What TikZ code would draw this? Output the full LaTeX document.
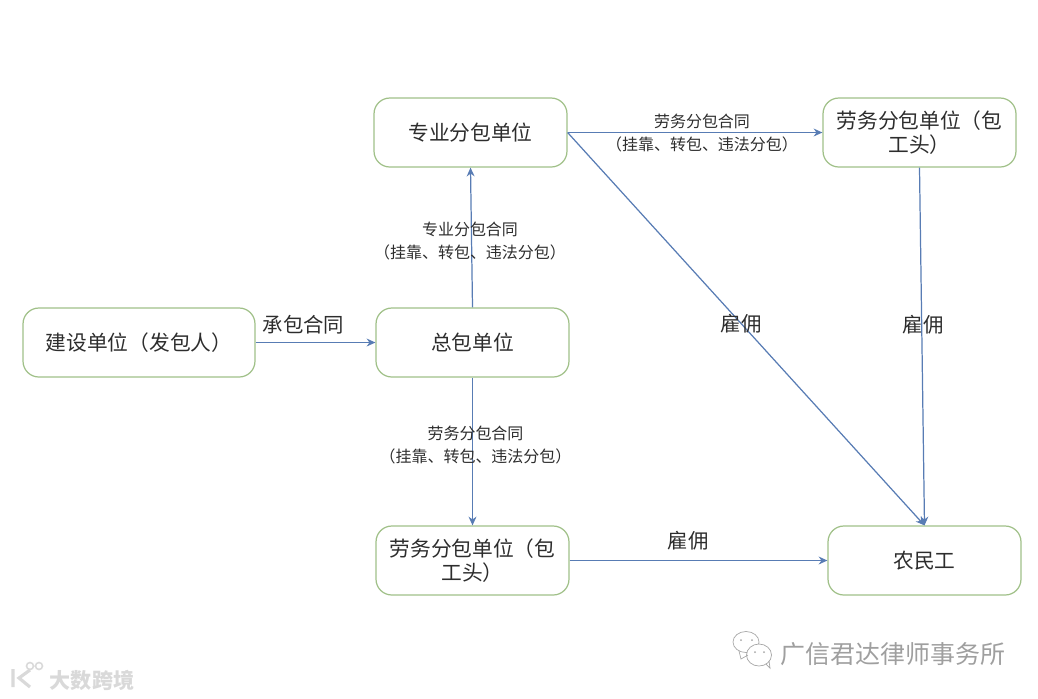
\documentclass[tikz,border=0pt]{standalone}
\usepackage{fontspec}
\setmainfont{Noto Sans CJK SC}
\usetikzlibrary{arrows.meta,positioning}
\definecolor{boxgreen}{RGB}{160,192,136}
\definecolor{linkblue}{RGB}{88,124,180}
\definecolor{darktext}{RGB}{45,45,45}
\tikzset{
  unitbox/.style={draw=boxgreen,line width=0.7pt,rounded corners=9pt,minimum height=1.38cm,
    minimum width=3.86cm,align=center,text=darktext,font=\fontsize{11.8}{14}\selectfont,inner sep=2pt},
  link/.style={-{Stealth[length=5pt,width=4.5pt]},color=linkblue,line width=0.7pt},
  smalllabel/.style={font=\fontsize{9.1}{12.8}\selectfont,color=darktext,align=center,inner sep=0pt},
  biglabel/.style={font=\fontsize{11.6}{14}\selectfont,color=darktext,inner sep=0pt},
  markgray/.style={color=gray!70,line width=0.4pt},
}
\begin{document}
\begin{tikzpicture}[x=0.02cm,y=-0.02cm]
\useasboundingbox (0,0) rectangle (1038,698);
% units
\node[unitbox,minimum width=4.64cm] (owner) at (139,342.5) {建设单位（发包人）};
\node[unitbox] (general) at (472.5,342.5) {总包单位};
\node[unitbox] (special) at (470.5,132.5) {专业分包单位};
\node[unitbox] (labourtop) at (919.5,132.5) {劳务分包单位（包\\工头）};
\node[unitbox] (labourlow) at (472.5,560.5) {劳务分包单位（包\\工头）};
\node[unitbox] (workers) at (924.5,560.5) {农民工};
% contracts
\foreach \a/\b in {owner.east/general.west,general.north/special.south,
  general.south/labourlow.north,special.east/labourtop.west,special.east/workers.north,
  labourtop.south/workers.north,labourlow.east/workers.west}{
  \draw[link] (\a) -- (\b);}
% labels
\node[biglabel] (main) at (303.5,325) {承包合同};
\node[smalllabel] (up) at (470,241) {专业分包合同\\（挂靠、转包、违法分包）};
\node[smalllabel] (down) at (475.5,445) {劳务分包合同\\（挂靠、转包、违法分包）};
\node[smalllabel] (right) at (702,133) {劳务分包合同\\（挂靠、转包、违法分包）};
\node[biglabel] (hirea) at (741,324) {雇佣};
\node[biglabel] (hireb) at (923,325) {雇佣};
\node[biglabel] (hirec) at (688,541) {雇佣};
% watermarks
\node[font=\fontsize{12}{14}\selectfont\bfseries,color=gray!30,inner sep=0pt] (markleft) at (92,680) {大数跨境};
\node[font=\fontsize{14.2}{16}\selectfont,color=gray!75,inner sep=0pt] (markright) at (893,654) {广信君达律师事务所};
\draw[color=gray!30,line width=1.8pt] (13,669)--(13,687) (30,670)--(19,678)--(30,687);
\draw[color=gray!30,line width=0.9pt] (30,666) circle (3.5) (39,666) circle (3.5);
\draw[markgray] (746,642) ellipse (13 and 10.5);
\draw[markgray,fill=white] (759,655) ellipse (12.5 and 11);
\draw[markgray] (739,651)--(741,659)--(748,655) (766,664)--(770,668)--(769,661);
\fill[gray!70] (741,640) circle (1) (752,640) circle (1) (755,652) circle (1) (764,652) circle (1);
\end{tikzpicture}
\end{document}
